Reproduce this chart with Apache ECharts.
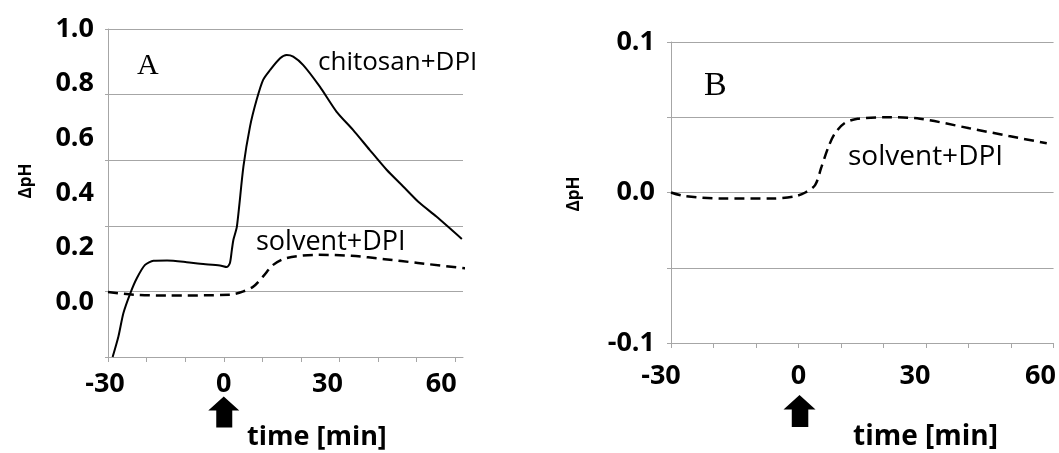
<!DOCTYPE html>
<html>
<head>
<meta charset="utf-8">
<title>ΔpH time course</title>
<script src="https://cdn.jsdelivr.net/npm/echarts@6/dist/echarts.min.js"></script>
<style>
    html, body { margin: 0; padding: 0; background: #fff; }
    #main { width: 1059px; height: 453px; }
</style>
</head>
<body>
<div id="main"></div>
<script>
// ---- data ----
// panel A, chitosan+DPI (solid)
var chitosanTimeA = [-28.8, -27.3, -26.0, -24.2, -22.5, -20.4, -18.2, -14.7, -9.6, -6.1, -1.0, 0.8, 1.6, 2.1, 2.5, 3.4,
    5.1, 6.8, 8.5, 10.2, 12.0, 14.6, 16.3, 18.0, 20.6, 24.9, 29.2, 33.5, 37.8, 42.2, 46.5, 50.8, 55.1, 61.7];
var chitosanA = [-0.2, -0.125, -0.039, 0.034, 0.089, 0.137, 0.152, 0.153, 0.147, 0.141, 0.135, 0.129, 0.144, 0.192, 0.229, 0.277,
    0.497, 0.643, 0.740, 0.814, 0.850, 0.893, 0.905, 0.899, 0.868, 0.789, 0.698, 0.631, 0.558, 0.485, 0.424, 0.363, 0.314, 0.232];
// panel A, solvent+DPI (dashed)
var solventTimeA = [-30, -23.4, -14.7, 1.6, 5.1, 7.7, 10.2, 12.8, 16.3, 24.5, 33.1, 41.7, 50.3, 64.1];
var solventA = [0.038, 0.028, 0.025, 0.028, 0.040, 0.058, 0.095, 0.137, 0.162, 0.174, 0.170, 0.158, 0.144, 0.122];
// panel B, solvent+DPI (dashed)
var solventTimeB = [-30, -27.1, -17.8, -6.2, -0.8, 1.6, 3.9, 5.4, 7.0, 8.5, 10.8, 13.9, 20.9, 28.6, 40.2, 49.5, 58.4];
var solventB = [0, -0.0022, -0.004, -0.004, -0.0025, 0, 0.0049, 0.017, 0.030, 0.039, 0.046, 0.049, 0.050, 0.049, 0.0427, 0.0375, 0.0327];

// ticks
var timeTicks = [-30, -20, -10, 0, 10, 20, 30, 40, 50, 60];
var timeLabels = [-30, 0, 30, 60];
var yLabelsA = [0.0, 0.2, 0.4, 0.6, 0.8, 1.0];
var yLabelsB = [-0.1, 0.0, 0.1];
var arrowAt = 0; // DPI added at t = 0

var GRID_COLOR = '#a6a6a6';
var SANS = '"Open Sans", "DejaVu Sans", sans-serif';
var SERIF = '"Liberation Serif", "DejaVu Serif", serif';
var ARROW = 'path://M15.5,0 L31,14 L24,14 L24,31 L8,31 L8,14 L0,14 Z';

/**
 * zip two arrays into [x, y] pairs
 */
var pairs = function(xs, ys){
    var out = [];
    for (var i = 0; i < xs.length; i++) {
        out.push([xs[i], ys[i]]);
    }
    return out;
};

/**
 * x axis labels, nudged left a bit like in the scan
 */
var timeAxis = function(gridIndex, max, shifts, margin){
    var rich = {};
    for (var k in shifts) {
        rich['s' + shifts[k]] = { padding: [0, shifts[k] * 2, 0, 0] };
    }
    return {
        type: 'value', gridIndex: gridIndex, min: -30, max: max,
        axisLine: { onZero: false, lineStyle: { color: GRID_COLOR, width: 1 } },
        axisTick: { customValues: timeTicks, length: 5, lineStyle: { color: GRID_COLOR } },
        splitLine: { show: false },
        axisLabel: {
            customValues: timeLabels, margin: margin,
            color: '#000', fontFamily: SANS, fontWeight: 'bold', fontSize: 27,
            rich: rich,
            formatter: function(v){
                var s = shifts[v] || 0;
                return s ? '{s' + s + '|' + v + '}' : String(v);
            }
        }
    };
};

/**
 * y axis label formatter that only prints the listed values
 */
var onlyLabels = function(list){
    return function(v){
        for (var i = 0; i < list.length; i++) {
            if (Math.abs(v - list[i]) < 1e-6) return list[i].toFixed(1);
        }
        return '';
    };
};

var makeText = function(text, x, y, size, opts){
    opts = opts || {};
    return {
        type: 'text', x: x, y: y, rotation: opts.rotation || 0, silent: true,
        style: {
            text: text, fill: '#000',
            fontSize: size, fontFamily: opts.family || SANS, fontWeight: opts.weight || 'normal',
            align: opts.align || 'left', verticalAlign: 'middle'
        }
    };
};

var chart = echarts.init(document.getElementById('main'));

var option = {
    animation: false,
    backgroundColor: '#fff',
    grid: [
        { left: 108, top: 29, width: 355, height: 328 },
        { left: 671, top: 42, width: 388, height: 301 }
    ],
    xAxis: [
        timeAxis(0, 62, { '-30': 3, '30': 12, '60': 14 }, 14),
        timeAxis(1, 60, { '-30': 10, '30': 11, '60': 13 }, 20)
    ],
    yAxis: [
        // A: values and labels
        {
            type: 'value', gridIndex: 0, min: -0.2, max: 1.0, interval: 0.2,
            axisLine: { show: false, onZero: false }, axisTick: { show: false },
            splitLine: { show: false },
            axisLabel: {
                margin: 14, color: '#000', fontFamily: SANS, fontWeight: 'bold', fontSize: 27,
                formatter: onlyLabels(yLabelsA)
            }
        },
        // A: the scan's gridlines are 5 equal bands, not on the labels
        {
            type: 'value', gridIndex: 0, min: 0, max: 5, interval: 1, position: 'left',
            axisLine: { show: true, onZero: false, lineStyle: { color: GRID_COLOR } },
            axisTick: { show: true, length: 3, lineStyle: { color: GRID_COLOR } },
            axisLabel: { show: false },
            splitLine: { lineStyle: { color: GRID_COLOR, width: 1 } }
        },
        // B
        {
            type: 'value', gridIndex: 1, min: -0.1, max: 0.1, interval: 0.05,
            axisLine: { show: true, onZero: false, lineStyle: { color: GRID_COLOR } },
            axisTick: { show: true, length: 4, lineStyle: { color: GRID_COLOR } },
            splitLine: { lineStyle: { color: GRID_COLOR, width: 1 } },
            axisLabel: {
                margin: 16, color: '#000', fontFamily: SANS, fontWeight: 'bold', fontSize: 27,
                formatter: onlyLabels(yLabelsB)
            }
        }
    ],
    series: [
        {
            name: 'chitosan+DPI', type: 'line', xAxisIndex: 0, yAxisIndex: 0,
            data: pairs(chitosanTimeA, chitosanA),
            showSymbol: false, symbol: 'none', smooth: 0.25, clip: false,
            lineStyle: { color: '#000', width: 2 }
        },
        {
            name: 'solvent+DPI', type: 'line', xAxisIndex: 0, yAxisIndex: 0,
            data: pairs(solventTimeA, solventA),
            showSymbol: false, symbol: 'none', smooth: 0.3, clip: false,
            lineStyle: { color: '#000', width: 2.5, type: [10, 6] },
            markPoint: {
                silent: true, label: { show: false },
                itemStyle: { color: '#000' },
                data: [{ coord: [arrowAt, -0.2], symbol: ARROW, symbolSize: [31, 31], symbolOffset: [0, 55] }]
            }
        },
        {
            name: 'solvent+DPI B', type: 'line', xAxisIndex: 1, yAxisIndex: 2,
            data: pairs(solventTimeB, solventB),
            showSymbol: false, symbol: 'none', smooth: 0.3, clip: false,
            lineStyle: { color: '#000', width: 2.5, type: [10, 6] },
            markPoint: {
                silent: true, label: { show: false },
                itemStyle: { color: '#000' },
                data: [{ coord: [arrowAt, -0.1], symbol: ARROW, symbolSize: [32, 32], symbolOffset: [1, 68] }]
            }
        }
    ],
    graphic: [
        makeText('A', 137, 66, 30, { family: SERIF }),
        makeText('chitosan+DPI', 318, 63, 26),
        makeText('solvent+DPI', 256, 242, 27),
        makeText('time [min]', 247, 437, 27, { weight: 'bold' }),
        makeText('\u0394pH', 26, 181, 17, { weight: 'bold', align: 'center', rotation: Math.PI / 2 }),
        makeText('B', 704, 86, 34, { family: SERIF }),
        makeText('solvent+DPI', 848, 157, 28),
        makeText('time [min]', 853, 437, 28, { weight: 'bold' }),
        makeText('\u0394pH', 574, 194, 17, { weight: 'bold', align: 'center', rotation: Math.PI / 2 })
    ]
};

chart.setOption(option);
</script>
</body>
</html>
